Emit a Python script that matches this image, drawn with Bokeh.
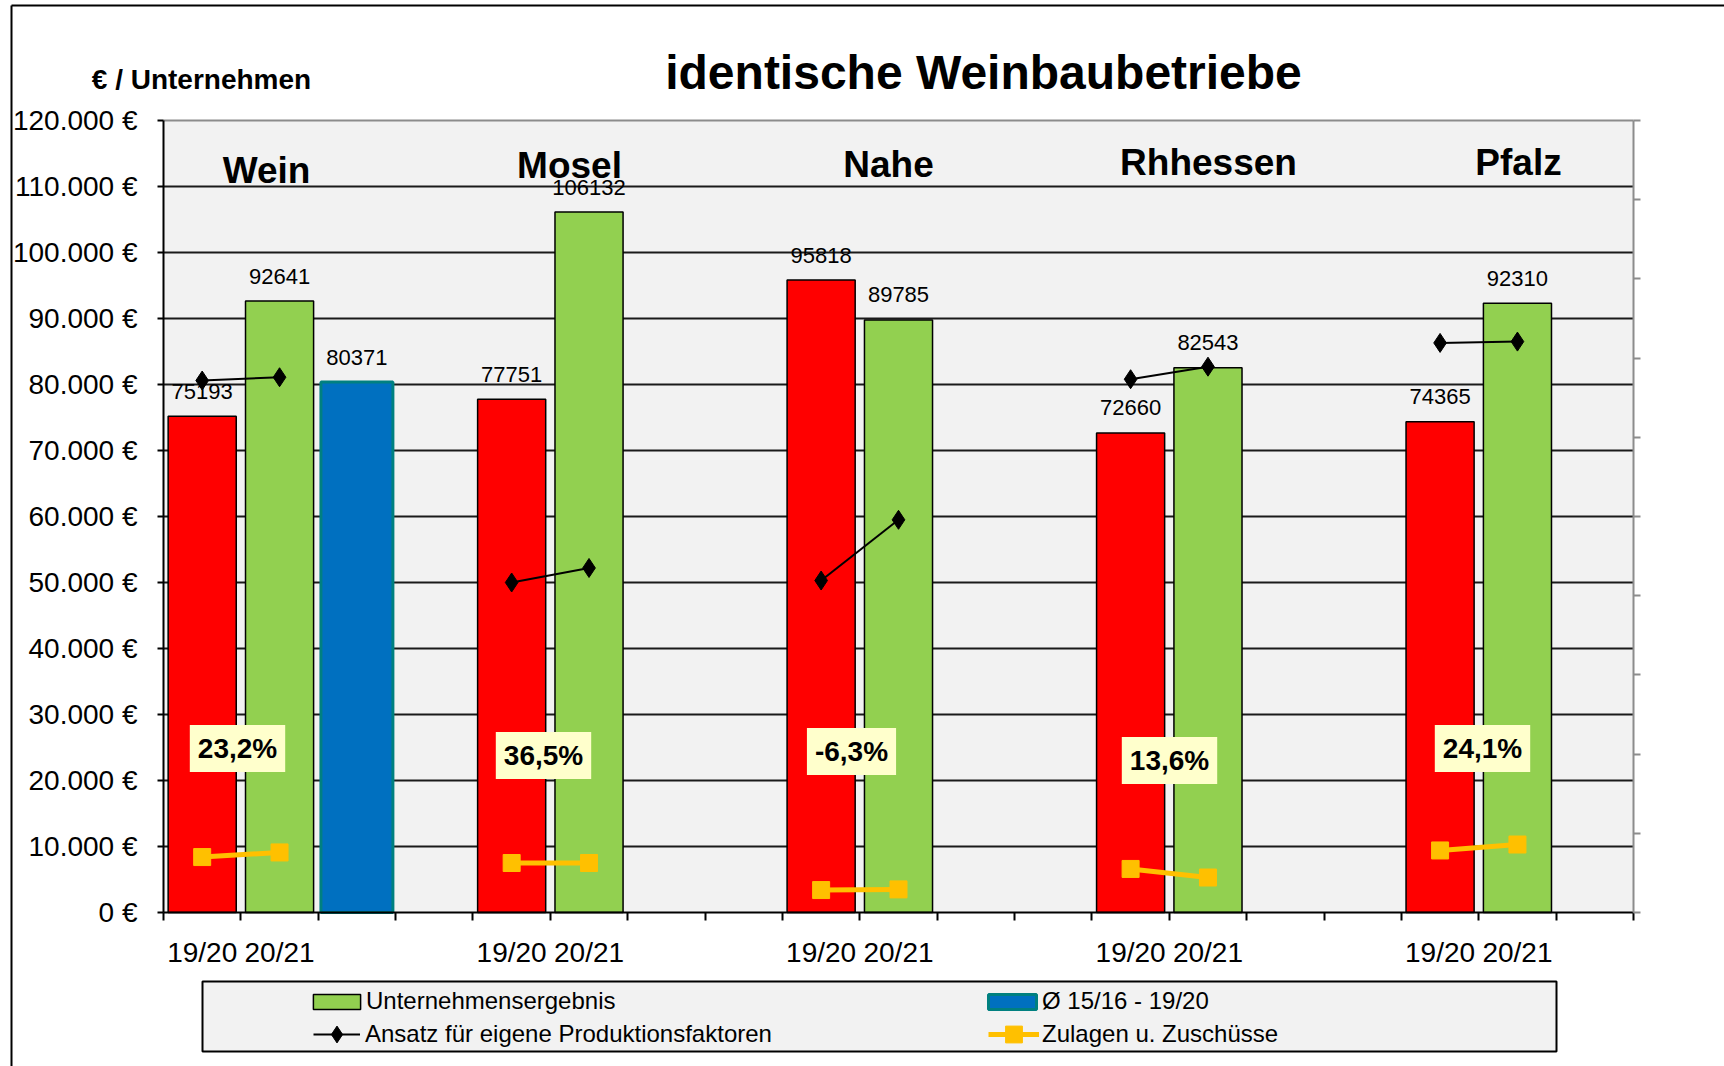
from bokeh.plotting import figure
from bokeh.models import (Range1d, LinearAxis, FixedTicker, Label, Legend, LegendItem,
                          ColumnDataSource)
from bokeh.core.properties import value
from bokeh.embed import file_html
from bokeh.resources import INLINE

# ---------------- data ----------------
regions = ["Wein", "Mosel", "Nahe", "Rhhessen", "Pfalz"]
years = ["19/20", "20/21"]
ergebnis_1920 = [75193, 77751, 95818, 72660, 74365]
ergebnis_2021 = [92641, 106132, 89785, 82543, 92310]
avg_label = "Ø 15/16 - 19/20"
avg_wein = [80371]
ansatz_1920 = [80600, 50000, 50300, 80800, 86300]
ansatz_2021 = [81100, 52200, 59500, 82700, 86500]
zulagen_1920 = [8400, 7500, 3400, 6600, 9400]
zulagen_2021 = [9100, 7500, 3500, 5300, 10300]
change_labels = ["23,2%", "36,5%", "-6,3%", "13,6%", "24,1%"]
y_ticks = list(range(0, 120001, 10000))

# ---------------- layout helpers (canvas pixels) ----------------
W, H = 1724, 1066
PL, PR, PT, PB = 163, 1633, 120, 912      # plot area on the canvas
NSLOT = 19
YMAX = 120000
SANS = "Liberation Sans"


def xs(px):
    return (px - PL) / (PR - PL) * NSLOT


def yv(py):
    return (PB - py) / (PB - PT) * YMAX


red_x = [4 * i + 0.5 for i in range(len(regions))]
green_x = [4 * i + 1.5 for i in range(len(regions))]
avg_x = [2.5]
LABEL_GAP = 25 * YMAX / (PB - PT)

p = figure(width=W, height=H, x_range=Range1d(xs(0), xs(W)), y_range=Range1d(yv(H), yv(0)),
           output_backend="svg", toolbar_location=None, min_border=0,
           background_fill_color="white", border_fill_color="white",
           outline_line_color=None)
p.title.visible = False
p.xgrid.visible = False
p.ygrid.visible = False

# plot area background, grid lines, top border
p.quad(left=[0], right=[NSLOT], bottom=[0], top=[YMAX], fill_color="#F2F2F2", line_color=None)
grid_vals = y_ticks[1:-1]
p.segment(x0=[0] * len(grid_vals), x1=[NSLOT] * len(grid_vals), y0=grid_vals, y1=grid_vals,
          line_color="#1a1a1a", line_width=2)
p.segment(x0=[0], x1=[NSLOT], y0=[YMAX], y1=[YMAX], line_color="#8c8c8c", line_width=2)

# outer frame of the picture
p.segment(x0=[xs(11), xs(11)], y0=[yv(5), yv(5)], x1=[xs(11), xs(W + 5)], y1=[yv(H + 5), yv(5)],
          line_color="black", line_width=2)

# y axis
yax = p.yaxis[0]
yax.fixed_location = 0
yax.bounds = (0, YMAX)
yax.ticker = FixedTicker(ticks=y_ticks)
yax.major_label_overrides = {v: f"{v:,}".replace(",", ".") + " €" for v in y_ticks}
yax.major_label_text_font = SANS
yax.major_label_text_font_size = "28px"
yax.major_label_text_color = "black"
yax.major_label_standoff = 20
yax.major_tick_out = 6
yax.major_tick_in = 0
yax.major_tick_line_width = 2
yax.major_tick_line_color = "black"
yax.minor_tick_line_color = None
yax.axis_line_color = "black"
yax.axis_line_width = 2

# x axis
label_slots = []
label_texts = []
for i in range(len(regions)):
    label_slots += [red_x[i], green_x[i]]
    label_texts += years
xax = p.xaxis[0]
xax.fixed_location = 0
xax.bounds = (0, NSLOT)
xax.ticker = FixedTicker(ticks=label_slots, minor_ticks=list(range(NSLOT + 1)))
xax.major_label_overrides = dict(zip(label_slots, label_texts))
xax.major_tick_line_color = None
xax.major_tick_out = 8
xax.major_tick_in = 0
xax.minor_tick_line_color = "black"
xax.minor_tick_line_width = 2
xax.minor_tick_out = 8
xax.minor_tick_in = 0
xax.major_label_text_font = SANS
xax.major_label_text_font_size = "28px"
xax.major_label_text_color = "black"
xax.major_label_standoff = 16
xax.axis_line_color = "black"
xax.axis_line_width = 2

# right axis (ticks only)
rax = LinearAxis(fixed_location=NSLOT, bounds=(0, YMAX),
                 ticker=FixedTicker(ticks=[YMAX * k / 10 for k in range(11)]),
                 axis_line_color="#8c8c8c", axis_line_width=2,
                 major_tick_line_color="#8c8c8c", major_tick_line_width=2,
                 major_tick_out=7, major_tick_in=0, minor_tick_line_color=None,
                 major_label_text_color=None, major_label_text_font_size="1px",
                 major_label_standoff=0)
p.add_layout(rax, "right")

# bars
src_red = ColumnDataSource(dict(x=red_x, top=ergebnis_1920, label=[str(v) for v in ergebnis_1920],
                                ly=[v + LABEL_GAP for v in ergebnis_1920]))
src_green = ColumnDataSource(dict(x=green_x, top=ergebnis_2021, label=[str(v) for v in ergebnis_2021],
                                  ly=[v + LABEL_GAP for v in ergebnis_2021]))
src_avg = ColumnDataSource(dict(x=avg_x, top=avg_wein, label=[str(v) for v in avg_wein],
                                ly=[v + LABEL_GAP for v in avg_wein]))

r_red = p.vbar(x="x", top="top", bottom=0, width=0.88, source=src_red,
               fill_color="#FF0000", line_color="black", line_width=1.5)
r_green = p.vbar(x="x", top="top", bottom=0, width=0.88, source=src_green,
                 fill_color="#92D050", line_color="black", line_width=1.5)
r_avg = p.vbar(x="x", top="top", bottom=0, width=0.93, source=src_avg,
               fill_color="#0070C0", line_color="#008080", line_width=3)

for src in (src_red, src_green, src_avg):
    p.text(x="x", y="ly", text="label", source=src, text_align="center",
           text_baseline="middle", text_font=value(SANS),
           text_font_size="22px", text_color="black")

# lines
ans_xs = [[red_x[i], green_x[i]] for i in range(len(regions))]
ans_ys = [[ansatz_1920[i], ansatz_2021[i]] for i in range(len(regions))]
zul_ys = [[zulagen_1920[i], zulagen_2021[i]] for i in range(len(regions))]

r_ans_l = p.multi_line(xs=ans_xs, ys=ans_ys, line_color="black", line_width=2)
r_ans_m = p.scatter(x=red_x + green_x, y=ansatz_1920 + ansatz_2021, marker="diamond",
                    size=19, fill_color="black", line_color="black")
r_zul_l = p.multi_line(xs=ans_xs, ys=zul_ys, line_color="#FFC000", line_width=5)
r_zul_m = p.scatter(x=red_x + green_x, y=zulagen_1920 + zulagen_2021, marker="square",
                    size=17, fill_color="#FFC000", line_color="#FFC000")

# percentage boxes
pct_pos = [(237, 748), (543, 755), (851, 751), (1169, 760), (1482, 748)]
for (px_, py_), txt in zip(pct_pos, change_labels):
    p.add_layout(Label(x=xs(px_), y=yv(py_), text=txt, text_align="center",
                       text_baseline="middle", text_font=SANS, text_font_style="bold",
                       text_font_size="28px", text_color="black",
                       background_fill_color="#FFFFCC", padding=8))

# region names
reg_pos = [(266, 170), (569, 165), (888, 164), (1208, 162), (1518, 162)]
for (px_, py_), txt in zip(reg_pos, regions):
    p.add_layout(Label(x=xs(px_), y=yv(py_), text=txt, text_align="center",
                       text_baseline="middle", text_font=SANS, text_font_style="bold",
                       text_font_size="37px", text_color="black"))

# title and unit
p.add_layout(Label(x=xs(983), y=yv(72), text="identische Weinbaubetriebe", text_align="center",
                   text_baseline="middle", text_font=SANS, text_font_style="bold",
                   text_font_size="48px", text_color="black"))
p.add_layout(Label(x=xs(201), y=yv(79), text="€ / Unternehmen", text_align="center",
                   text_baseline="middle", text_font=SANS, text_font_style="bold",
                   text_font_size="28px", text_color="black"))

# legend box
p.quad(left=[xs(202)], right=[xs(1556)], top=[yv(981)], bottom=[yv(1051)],
       fill_color="#F2F2F2", line_color="black", line_width=2)


def make_legend(label, renderers, x_left, y_bottom, gw, gh, standoff):
    return Legend(items=[LegendItem(label=label, renderers=renderers)],
                  location=(x_left, H - y_bottom), padding=0, margin=0, spacing=0,
                  glyph_width=gw, glyph_height=gh, label_height=gh, label_width=10,
                  label_standoff=standoff, background_fill_alpha=0,
                  border_line_color=None, label_text_font=SANS,
                  label_text_font_size="24px", label_text_color="black")


p.add_layout(make_legend("Unternehmensergebnis", [r_green], 307, 1015, 59, 19, 0))
p.add_layout(make_legend("Ansatz für eigene Produktionsfaktoren", [r_ans_l, r_ans_m],
                         313, 1055, 47, 42, 5))
p.add_layout(make_legend(avg_label, [r_avg], 982, 1015, 60, 19, 0))
p.add_layout(make_legend("Zulagen u. Zuschüsse", [r_zul_l, r_zul_m], 988, 1055, 51, 42, 3))

open("out.html", "w").write(file_html(p, INLINE))
